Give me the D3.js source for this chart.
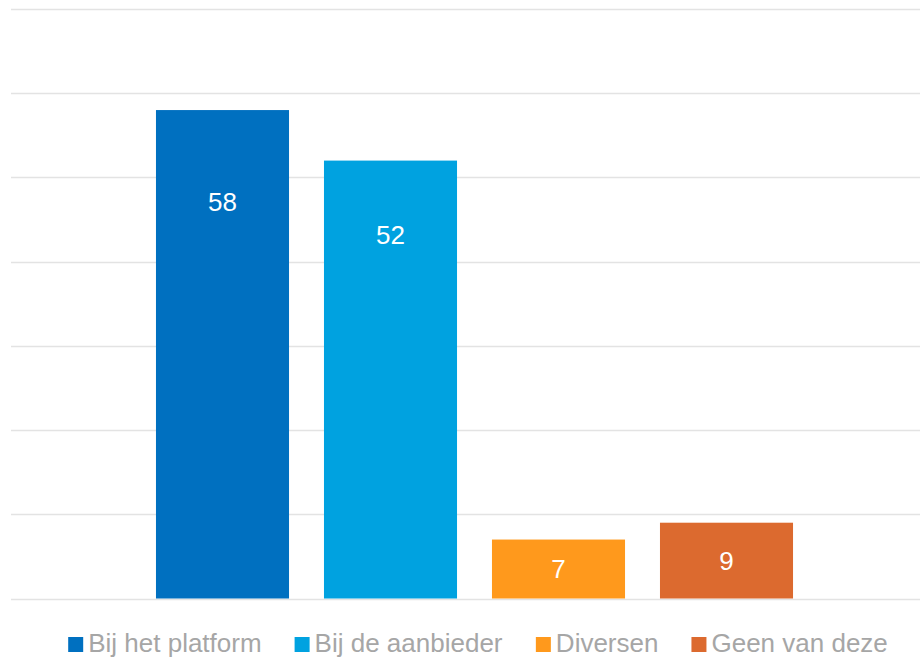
<!DOCTYPE html>
<html>
<head>
<meta charset="utf-8">
<script src="https://cdn.jsdelivr.net/npm/d3@7"></script>
<style>
  body { margin: 0; background: #fff; }
  svg { display: block; font-family: "Liberation Sans", Arial, sans-serif; }
</style>
</head>
<body>
<div id="chart"></div>
<script>
// chart data
const categories = ["Bij het platform", "Bij de aanbieder", "Diversen", "Geen van deze"];
const values = [58, 52, 7, 9];
const colors = ["#0070C0", "#00A2E0", "#FF991C", "#DC6A2F"];
const yTicks = [0, 10, 20, 30, 40, 50, 60, 70];

const width = 920, height = 658;

const svg = d3.select("#chart").append("svg")
    .attr("width", width)
    .attr("height", height);

const x = d3.scaleBand()
    .domain(categories)
    .range([138.5, 810.5])
    .paddingInner(0.208)
    .paddingOuter(0.104);

const y = d3.scaleLinear()
    .domain([0, 70])
    .range([598.5, 9]);

// gridlines
svg.append("g")
    .selectAll("line")
    .data(yTicks)
    .join("line")
    .attr("x1", 11)
    .attr("x2", width)
    .attr("y1", d => Math.round(y(d)) + 0.5)
    .attr("y2", d => Math.round(y(d)) + 0.5)
    .attr("stroke", "#e3e3e3")
    .attr("stroke-width", 1.5);

// bars
svg.append("g")
    .selectAll("rect")
    .data(values)
    .join("rect")
    .attr("x", (d, i) => x(categories[i]))
    .attr("y", d => y(d))
    .attr("width", x.bandwidth())
    .attr("height", d => y(0) - y(d))
    .attr("fill", (d, i) => colors[i]);

// value labels: tall bars carry the label in the upper part, short ones centred
svg.append("g")
    .selectAll("text")
    .data(values)
    .join("text")
    .attr("x", (d, i) => x(categories[i]) + x.bandwidth() / 2)
    .attr("y", d => y(d > 20 ? d * 0.65 + 9.4 : d / 2))
    .attr("dy", "0.35em")
    .attr("text-anchor", "middle")
    .attr("fill", "#fff")
    .style("font-size", "26px")
    .text(d => d);

// legend
const legend = svg.append("g");
const items = legend.selectAll("g")
    .data(categories)
    .join("g");

items.append("rect")
    .attr("width", 15)
    .attr("height", 15)
    .attr("y", 637)
    .attr("fill", (d, i) => colors[i]);

items.append("text")
    .attr("x", 20)
    .attr("y", 651.5)
    .attr("fill", "#a6a6a6")
    .style("font-size", "26px")
    .text(d => d);

let offset = 0;
const pos = [];
items.each(function () {
    const w = this.getBBox().width;
    pos.push(offset);
    offset += w + 33;
});
const total = offset - 33;
const start = 478 - total / 2;
items.attr("transform", (d, i) => "translate(" + (start + pos[i]) + ",0)");
</script>
</body>
</html>
